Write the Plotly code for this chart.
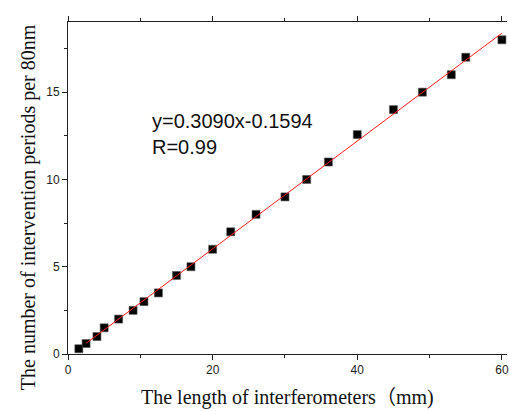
import plotly.graph_objects as go

# Data
length_mm = [1.5, 2.5, 4, 5, 7, 9, 10.5, 12.5, 15, 17, 20, 22.5, 26, 30, 33, 36, 40, 45, 49, 53, 55, 60]
periods = [0.3, 0.6, 1, 1.5, 2, 2.5, 3, 3.5, 4.5, 5, 6, 7, 8, 9, 10, 11, 12.57, 14, 15, 16, 17, 18]

# Linear fit from the chart's equation text
slope = 0.3090
intercept = -0.1594
fit_x = [2.5, 60]
fit_y = [slope * v + intercept for v in fit_x]

x_ticks = [0, 20, 40, 60]
y_ticks = [0, 5, 10, 15]

W, H = 509, 411
L, T, B, R = 68, 22, 57, 0

fig = go.Figure()
fig.add_trace(go.Scatter(x=length_mm, y=periods, mode="markers",
                         marker=dict(symbol="square", size=8, color="black",
                                     line=dict(width=0.6, color="#555")),
                         showlegend=False))
fig.add_trace(go.Scatter(x=fit_x, y=fit_y, mode="lines",
                         line=dict(color="#ff1a1a", width=1), showlegend=False))

axis_common = dict(showgrid=False, zeroline=False, showline=True, linecolor="#222",
                   linewidth=1, ticks="outside", ticklen=5, tickwidth=1, tickcolor="#222",
                   ticklabeloverflow="allow",
                   tickfont=dict(family="Liberation Sans, Arial", size=12, color="#222"))

fig.update_xaxes(range=[0, (W - L) / 7.265], tickvals=x_ticks, mirror="ticks",
                 minor=dict(ticks="outside", ticklen=3, dtick=10, tick0=0, tickcolor="#222"),
                 **axis_common)
fig.update_yaxes(range=[0, 19.02], tickvals=y_ticks, mirror=False,
                 minor=dict(ticks="outside", ticklen=3, dtick=2.5, tick0=0, tickcolor="#222"),
                 **axis_common)

plot_w = W - L - R
plot_h = H - T - B

def px_x(p):
    return (p - L) / plot_w

def px_y(p):
    return (H - B - p) / plot_h

fig.add_annotation(text="y=0.3090x-0.1594<br>R=0.99", xref="paper", yref="paper",
                   x=px_x(150), y=px_y(108), xanchor="left", yanchor="top", align="left",
                   showarrow=False,
                   font=dict(family="Liberation Sans, Arial", size=20, color="#111"))
fig.add_annotation(text="The length of interferometers（mm)", xref="paper", yref="paper",
                   x=px_x(289), y=px_y(397), xanchor="center", yanchor="middle",
                   showarrow=False,
                   font=dict(family="Liberation Serif, Times New Roman, Noto Sans CJK SC", size=20, color="#111"))
fig.add_annotation(text="The number of intervention periods per 80nm", xref="paper", yref="paper",
                   x=px_x(28), y=px_y(207), xanchor="center", yanchor="middle", textangle=-90,
                   showarrow=False,
                   font=dict(family="Liberation Serif, Times New Roman", size=20, color="#111"))

fig.update_layout(width=W, height=H, margin=dict(l=L, r=R, t=T, b=B),
                  paper_bgcolor="white", plot_bgcolor="white")

fig.write_html("out.html", config={"displayModeBar": False},
               post_script="document.body.style.margin='0';document.body.style.overflow='hidden';")
